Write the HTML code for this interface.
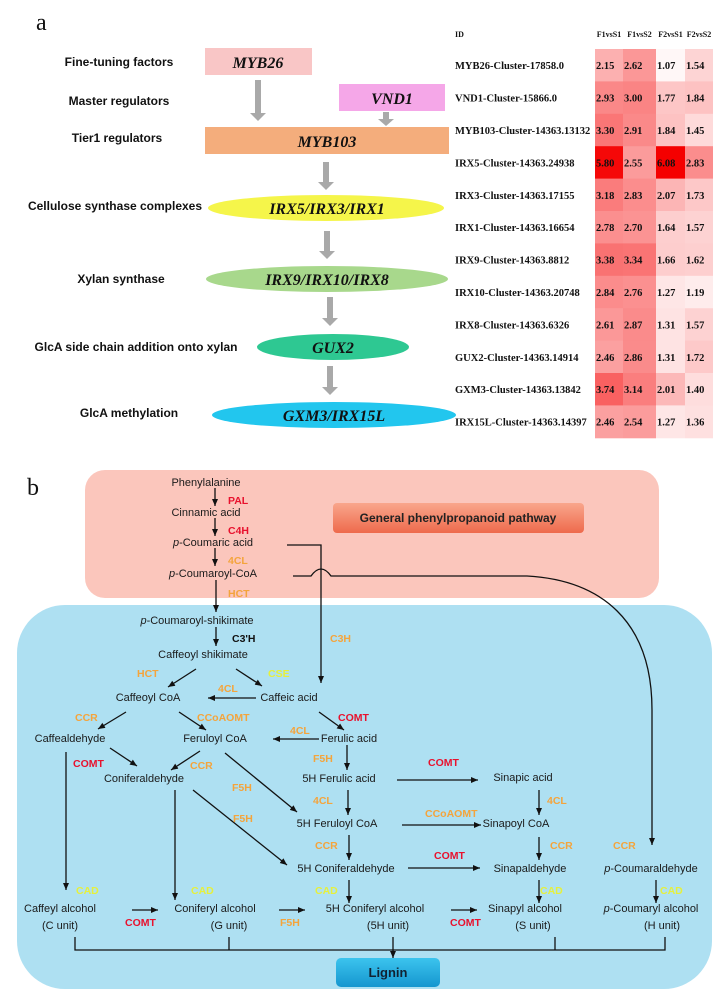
<!DOCTYPE html>
<html><head><meta charset="utf-8"><style>
html,body{margin:0;padding:0;background:#fff;}
svg{display:block;}
.lab{font-family:"Liberation Sans",sans-serif;font-weight:bold;font-size:12px;fill:#111;}
.gene{font-family:"Liberation Serif",serif;font-weight:bold;font-style:italic;font-size:16px;fill:#111;}
.tid{font-family:"Liberation Serif",serif;font-weight:bold;font-size:10.5px;fill:#111;}
.th{font-family:"Liberation Serif",serif;font-weight:bold;font-size:8px;fill:#111;}
.m{font-family:"Liberation Sans",sans-serif;font-size:11px;fill:#1a1a1a;}
.e{font-family:"Liberation Sans",sans-serif;font-size:10.5px;font-weight:bold;}
.o{fill:#f4a43c;}.r{fill:#e8112d;}.y{fill:#e6f03c;}.k{fill:#111;}
</style></head><body>
<svg id="fig" width="728" height="1002" viewBox="0 0 728 1002" xmlns="http://www.w3.org/2000/svg">
<defs>
<marker id="ah" markerWidth="8" markerHeight="8" refX="7" refY="4" orient="auto" markerUnits="userSpaceOnUse"><path d="M0,1 L7,4 L0,7 Z" fill="#111"/></marker>
<linearGradient id="gp" x1="0" y1="0" x2="0" y2="1"><stop offset="0" stop-color="#f9a68c"/><stop offset="1" stop-color="#ee6a4c"/></linearGradient>
<linearGradient id="gl" x1="0" y1="0" x2="0" y2="1"><stop offset="0" stop-color="#3cc4ee"/><stop offset="1" stop-color="#1596cf"/></linearGradient>
</defs>

<!-- Panel a -->
<text x="36" y="30" font-family="Liberation Serif,serif" font-size="24" fill="#111">a</text>
<g>
<text class="lab" x="119" y="66" text-anchor="middle">Fine-tuning factors</text>
<text class="lab" x="119" y="105" text-anchor="middle">Master regulators</text>
<text class="lab" x="117" y="142" text-anchor="middle">Tier1 regulators</text>
<text class="lab" x="115" y="210" text-anchor="middle">Cellulose synthase complexes</text>
<text class="lab" x="121" y="283" text-anchor="middle">Xylan synthase</text>
<text class="lab" x="136" y="351" text-anchor="middle">GlcA side chain addition onto xylan</text>
<text class="lab" x="129" y="417" text-anchor="middle">GlcA methylation</text>
</g>
<g fill="#a9a9a9">
<rect x="255" y="80" width="6" height="33"/><path d="M250,113 L266,113 L258,121 Z"/>
<rect x="383" y="112" width="6" height="7"/><path d="M378,119 L394,119 L386,126 Z"/>
<rect x="323" y="162" width="6" height="20"/><path d="M318,182 L334,182 L326,190 Z"/>
<rect x="324" y="231" width="6" height="20"/><path d="M319,251 L335,251 L327,259 Z"/>
<rect x="327" y="297" width="6" height="21"/><path d="M322,318 L338,318 L330,326 Z"/>
<rect x="327" y="366" width="6" height="21"/><path d="M322,387 L338,387 L330,395 Z"/>
</g>
<rect x="205" y="48" width="107" height="27" fill="#f9c6c6"/>
<text class="gene" x="258" y="68" text-anchor="middle">MYB26</text>
<rect x="339" y="84" width="106" height="27" fill="#f5a7e8"/>
<text class="gene" x="392" y="104" text-anchor="middle">VND1</text>
<rect x="205" y="127" width="244" height="27" fill="#f4ad7c"/>
<text class="gene" x="327" y="147" text-anchor="middle">MYB103</text>
<ellipse cx="326" cy="208" rx="118" ry="13" fill="#f5f54a"/>
<text class="gene" x="327" y="214" text-anchor="middle">IRX5/IRX3/IRX1</text>
<ellipse cx="327" cy="279" rx="121" ry="13" fill="#a8d88c"/>
<text class="gene" x="327" y="285" text-anchor="middle">IRX9/IRX10/IRX8</text>
<ellipse cx="333" cy="347" rx="76" ry="13" fill="#2ec892"/>
<text class="gene" x="333" y="353" text-anchor="middle">GUX2</text>
<ellipse cx="334" cy="415" rx="122" ry="13" fill="#22c6ee"/>
<text class="gene" x="334" y="421" text-anchor="middle">GXM3/IRX15L</text>

<g id="heatmap"></g>

<!-- Panel b -->
<text x="27" y="495" font-family="Liberation Serif,serif" font-size="24" fill="#111">b</text>
<rect x="17" y="605" width="695" height="384" rx="48" fill="#aee0f2"/>
<rect x="85" y="470" width="574" height="128" rx="20" fill="#fbc6bc"/>
<rect x="333" y="503" width="251" height="30" rx="4" fill="url(#gp)"/>
<text x="458" y="522" text-anchor="middle" font-family="Liberation Sans,sans-serif" font-weight="bold" font-size="12" fill="#222">General phenylpropanoid pathway</text>

<g fill="none" stroke="#111" stroke-width="1.3">
<line x1="215" y1="488" x2="215" y2="506" marker-end="url(#ah)"/>
<line x1="215" y1="518" x2="215" y2="536" marker-end="url(#ah)"/>
<line x1="215" y1="548" x2="215" y2="566" marker-end="url(#ah)"/>
<line x1="216" y1="580" x2="216" y2="612" marker-end="url(#ah)"/>
<line x1="216" y1="627" x2="216" y2="646" marker-end="url(#ah)"/>
<path d="M287,545 L321,545 L321,683" marker-end="url(#ah)"/>
<path d="M293,576 L311,576 Q321,562 331,576 L527,576 C600,580 652,620 652,710 L652,845" marker-end="url(#ah)"/>
<line x1="196" y1="669" x2="168" y2="687" marker-end="url(#ah)"/>
<line x1="236" y1="669" x2="262" y2="686" marker-end="url(#ah)"/>
<line x1="256" y1="698" x2="208" y2="698" marker-end="url(#ah)"/>
<line x1="126" y1="712" x2="98" y2="729" marker-end="url(#ah)"/>
<line x1="179" y1="712" x2="206" y2="730" marker-end="url(#ah)"/>
<line x1="319" y1="712" x2="344" y2="730" marker-end="url(#ah)"/>
<line x1="319" y1="739" x2="273" y2="739" marker-end="url(#ah)"/>
<line x1="110" y1="748" x2="137" y2="766" marker-end="url(#ah)"/>
<line x1="200" y1="751" x2="171" y2="770" marker-end="url(#ah)"/>
<line x1="225" y1="753" x2="297" y2="812" marker-end="url(#ah)"/>
<line x1="193" y1="790" x2="287" y2="865" marker-end="url(#ah)"/>
<line x1="347" y1="745" x2="347" y2="770" marker-end="url(#ah)"/>
<line x1="348" y1="790" x2="348" y2="815" marker-end="url(#ah)"/>
<line x1="349" y1="835" x2="349" y2="860" marker-end="url(#ah)"/>
<line x1="349" y1="880" x2="349" y2="903" marker-end="url(#ah)"/>
<line x1="397" y1="780" x2="478" y2="780" marker-end="url(#ah)"/>
<line x1="402" y1="825" x2="481" y2="825" marker-end="url(#ah)"/>
<line x1="408" y1="868" x2="480" y2="868" marker-end="url(#ah)"/>
<line x1="539" y1="790" x2="539" y2="815" marker-end="url(#ah)"/>
<line x1="539" y1="837" x2="539" y2="860" marker-end="url(#ah)"/>
<line x1="539" y1="880" x2="539" y2="903" marker-end="url(#ah)"/>
<line x1="656" y1="880" x2="656" y2="903" marker-end="url(#ah)"/>
<line x1="66" y1="752" x2="66" y2="890" marker-end="url(#ah)"/>
<line x1="175" y1="790" x2="175" y2="900" marker-end="url(#ah)"/>
<line x1="132" y1="910" x2="158" y2="910" marker-end="url(#ah)"/>
<line x1="279" y1="910" x2="305" y2="910" marker-end="url(#ah)"/>
<line x1="451" y1="910" x2="477" y2="910" marker-end="url(#ah)"/>
<path d="M75,937 L75,950 L665,950 L665,937 M229,937 L229,950 M555,937 L555,950"/>
<line x1="393" y1="937" x2="393" y2="958" marker-end="url(#ah)"/>
</g>
<rect x="336" y="958" width="104" height="29" rx="5" fill="url(#gl)"/>
<text x="388" y="977" text-anchor="middle" font-family="Liberation Sans,sans-serif" font-weight="bold" font-size="13" fill="#123">Lignin</text>

<g text-anchor="middle">
<text class="m" x="206" y="486">Phenylalanine</text>
<text class="m" x="206" y="516">Cinnamic acid</text>
<text class="m" x="213" y="546"><tspan font-style="italic">p</tspan>-Coumaric acid</text>
<text class="m" x="213" y="577"><tspan font-style="italic">p</tspan>-Coumaroyl-CoA</text>
<text class="m" x="197" y="624"><tspan font-style="italic">p</tspan>-Coumaroyl-shikimate</text>
<text class="m" x="203" y="658">Caffeoyl shikimate</text>
<text class="m" x="148" y="701">Caffeoyl CoA</text>
<text class="m" x="289" y="701">Caffeic acid</text>
<text class="m" x="70" y="742">Caffealdehyde</text>
<text class="m" x="215" y="742">Feruloyl CoA</text>
<text class="m" x="349" y="742">Ferulic acid</text>
<text class="m" x="144" y="782">Coniferaldehyde</text>
<text class="m" x="339" y="782">5H Ferulic acid</text>
<text class="m" x="523" y="781">Sinapic acid</text>
<text class="m" x="337" y="827">5H Feruloyl CoA</text>
<text class="m" x="516" y="827">Sinapoyl CoA</text>
<text class="m" x="346" y="872">5H Coniferaldehyde</text>
<text class="m" x="530" y="872">Sinapaldehyde</text>
<text class="m" x="651" y="872"><tspan font-style="italic">p</tspan>-Coumaraldehyde</text>
<text class="m" x="60" y="912">Caffeyl alcohol</text><text class="m" x="60" y="929">(C unit)</text>
<text class="m" x="215" y="912">Coniferyl alcohol</text><text class="m" x="229" y="929">(G unit)</text>
<text class="m" x="375" y="912">5H Coniferyl alcohol</text><text class="m" x="388" y="929">(5H unit)</text>
<text class="m" x="525" y="912">Sinapyl alcohol</text><text class="m" x="533" y="929">(S unit)</text>
<text class="m" x="651" y="912"><tspan font-style="italic">p</tspan>-Coumaryl alcohol</text><text class="m" x="662" y="929">(H unit)</text>
</g>
<g>
<text class="e r" x="228" y="504">PAL</text>
<text class="e r" x="228" y="534">C4H</text>
<text class="e o" x="228" y="564">4CL</text>
<text class="e o" x="228" y="597">HCT</text>
<text class="e k" x="232" y="642">C3'H</text>
<text class="e o" x="330" y="642">C3H</text>
<text class="e o" x="137" y="677">HCT</text>
<text class="e y" x="268" y="677">CSE</text>
<text class="e o" x="218" y="692">4CL</text>
<text class="e o" x="75" y="721">CCR</text>
<text class="e o" x="197" y="721">CCoAOMT</text>
<text class="e r" x="338" y="721">COMT</text>
<text class="e o" x="290" y="734">4CL</text>
<text class="e r" x="73" y="767">COMT</text>
<text class="e o" x="190" y="769">CCR</text>
<text class="e o" x="313" y="762">F5H</text>
<text class="e o" x="232" y="791">F5H</text>
<text class="e r" x="428" y="766">COMT</text>
<text class="e o" x="313" y="804">4CL</text>
<text class="e o" x="547" y="804">4CL</text>
<text class="e o" x="233" y="822">F5H</text>
<text class="e o" x="425" y="817">CCoAOMT</text>
<text class="e o" x="315" y="849">CCR</text>
<text class="e o" x="550" y="849">CCR</text>
<text class="e o" x="613" y="849">CCR</text>
<text class="e r" x="434" y="859">COMT</text>
<text class="e y" x="76" y="894">CAD</text>
<text class="e y" x="191" y="894">CAD</text>
<text class="e y" x="315" y="894">CAD</text>
<text class="e y" x="540" y="894">CAD</text>
<text class="e y" x="660" y="894">CAD</text>
<text class="e r" x="125" y="926">COMT</text>
<text class="e o" x="280" y="926">F5H</text>
<text class="e r" x="450" y="926">COMT</text>
</g>
</svg>
<script>
const genes = ["MYB26-Cluster-17858.0","VND1-Cluster-15866.0","MYB103-Cluster-14363.13132","IRX5-Cluster-14363.24938","IRX3-Cluster-14363.17155","IRX1-Cluster-14363.16654","IRX9-Cluster-14363.8812","IRX10-Cluster-14363.20748","IRX8-Cluster-14363.6326","GUX2-Cluster-14363.14914","GXM3-Cluster-14363.13842","IRX15L-Cluster-14363.14397"];
const comparisons = ["F1vsS1","F1vsS2","F2vsS1","F2vsS2"];
const f1s1 = [2.15,2.93,3.30,5.80,3.18,2.78,3.38,2.84,2.61,2.46,3.74,2.46];
const f1s2 = [2.62,3.00,2.91,2.55,2.83,2.70,3.34,2.76,2.87,2.86,3.14,2.54];
const f2s1 = [1.07,1.77,1.84,6.08,2.07,1.64,1.66,1.27,1.31,1.31,2.01,1.27];
const f2s2 = [1.54,1.84,1.45,2.83,1.73,1.57,1.62,1.19,1.57,1.72,1.40,1.36];
const series = [f1s1,f1s2,f2s1,f2s2];
const NS="http://www.w3.org/2000/svg";
const hm=document.getElementById('heatmap');
const colX=[595,623,656,685], colW=[28,33,29,28];
const rowY=i=>49+i*32.4, rowH=32.4;
function col(v){let t=Math.max(0,Math.min(1,(v-1)/5));t=Math.pow(t,0.8);const g=Math.round(255*(1-t));return `rgb(${Math.round(255-t*10)},${g},${g})`;}
function mk(tag,attrs,txt){const e=document.createElementNS(NS,tag);for(const k in attrs)e.setAttribute(k,attrs[k]);if(txt!=null)e.textContent=txt;hm.appendChild(e);return e;}
let h=mk('text',{x:455,y:37,class:'th'},'ID');


comparisons.forEach((c,j)=>{const t=mk('text',{x:colX[j]+colW[j]/2,y:37,class:'th','text-anchor':'middle'},c);

});
genes.forEach((g,i)=>{
 const y=rowY(i);
 const l=mk('text',{x:455,y:y+rowH/2+4,class:'tid'},g);
 
 
 series.forEach((s,j)=>{
  const r=mk('rect',{x:colX[j],y:y,width:colW[j],height:rowH+0.5,fill:col(s[i])});
  
  
  const t=mk('text',{x:colX[j]+1,y:y+rowH/2+4,class:'tid'},s[i].toFixed(2));
  
  
 });
});
</script>
</body></html>
